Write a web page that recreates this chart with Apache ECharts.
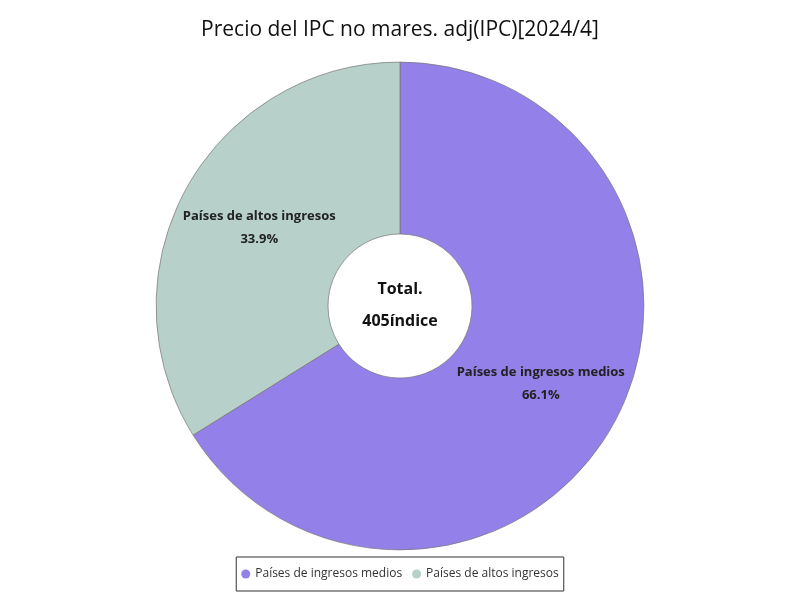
<!DOCTYPE html>
<html>
<head>
<meta charset="utf-8">
<script src="https://cdn.jsdelivr.net/npm/echarts@6/dist/echarts.min.js"></script>
<style>html,body{margin:0;padding:0;background:#fff}#c{width:800px;height:600px}</style>
</head>
<body>
<div id="c"></div>
<script>
const categories = ['Países de ingresos medios', 'Países de altos ingresos'];
const values = [267.8, 137.2];
const colors = ['#9380E8', '#B7D0CA'];
const totalLabel = 'Total.';
const totalValue = '405índice';

const chart = echarts.init(document.getElementById('c'));
const font = 'Open Sans, Noto Sans, sans-serif';
chart.setOption({
  animation: false,
  textStyle: { fontFamily: font },
  title: {
    text: 'Precio del IPC no mares. adj(IPC)[2024/4]',
    left: 'center', top: 15,
    textStyle: { fontFamily: font, fontSize: 21, fontWeight: 'normal', color: '#111' }
  },
  legend: {
    bottom: 9, left: 'center',
    icon: 'circle', itemWidth: 9, itemHeight: 9, itemGap: 10,
    itemStyle: { borderWidth: 0 },
    borderColor: '#333', borderWidth: 1, borderRadius: 0,
    padding: [11, 5],
    textStyle: { fontFamily: font, fontSize: 12, color: '#333' },
    data: categories
  },
  graphic: [{
    type: 'text', left: 'center', top: 281,
    style: { text: totalLabel, font: 'bold 16px ' + font, fill: '#111', textAlign: 'center' }
  }, {
    type: 'text', left: 'center', top: 313,
    style: { text: totalValue, font: 'bold 16px ' + font, fill: '#111', textAlign: 'center' }
  }],
  series: [{
    type: 'pie',
    center: ['50%', 306],
    radius: ['24%', '81.3%'],
    startAngle: 90,
    clockwise: true,
    itemStyle: { borderColor: '#777', borderWidth: 0.7 },
    label: {
      position: 'inside',
      formatter: p => p.name + '\n' + p.percent.toFixed(1) + '%',
      fontFamily: font, fontSize: 13, fontWeight: 'bold', color: '#222', lineHeight: 23
    },
    labelLine: { show: false },
    data: categories.map((n, i) => ({ name: n, value: values[i], itemStyle: { color: colors[i] } }))
  }]
});
</script>
</body>
</html>
